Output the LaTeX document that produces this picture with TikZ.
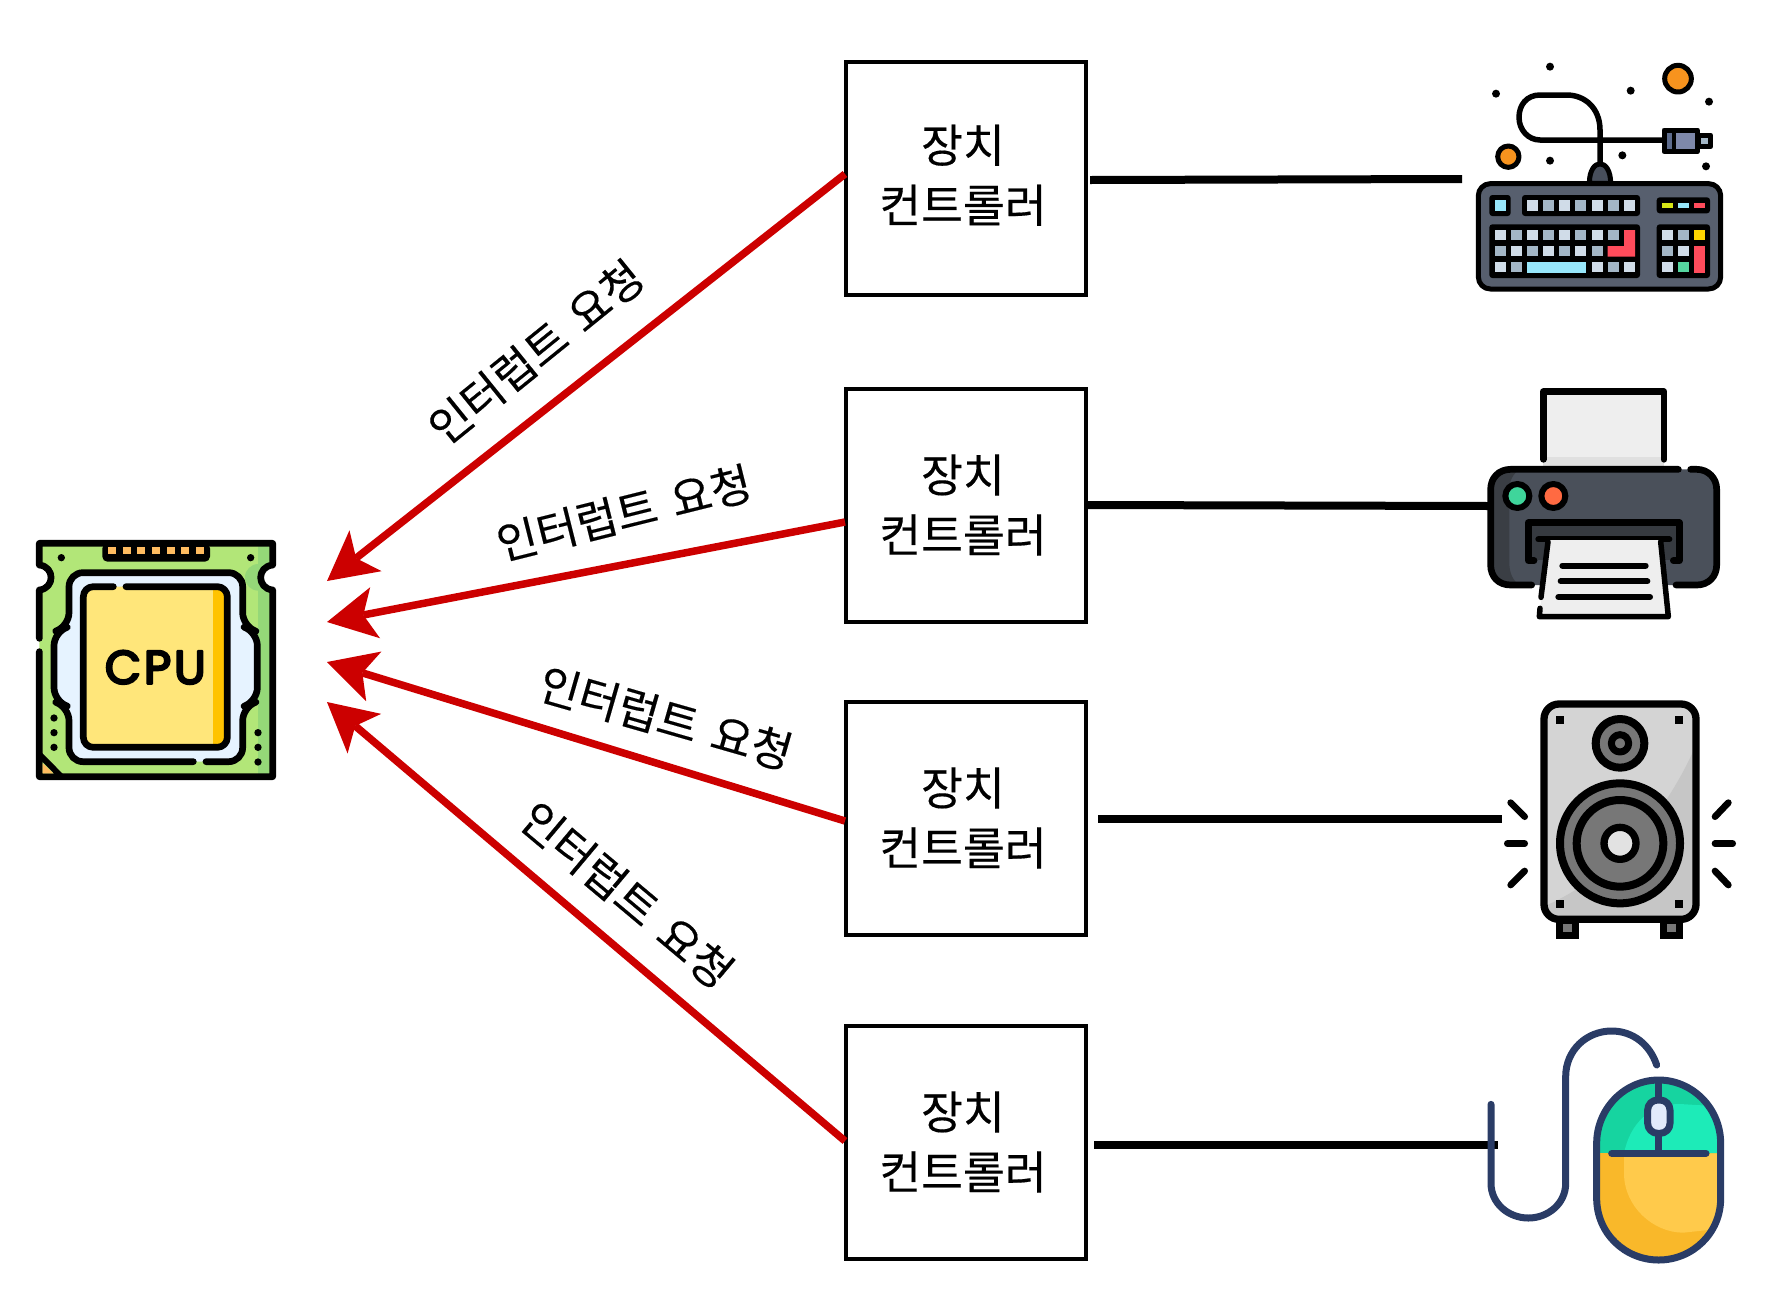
\documentclass[tikz,border=0pt]{standalone}
\usepackage{fontspec}
\setmainfont{Noto Sans CJK KR}[FakeBold=0.3]
\newfontfamily\cpufont{Poppins}[FakeBold=5,LetterSpace=6]
\usetikzlibrary{arrows.meta}
\definecolor{redline}{HTML}{CC0000}
\definecolor{kbBody}{HTML}{575F6E}
\definecolor{kbPlug}{HTML}{474E5B}
\definecolor{keyL}{HTML}{D0DCE8}
\definecolor{keyD}{HTML}{A3B6C6}
\definecolor{keyC}{HTML}{97E6FA}
\definecolor{keyR}{HTML}{FF4B5B}
\definecolor{keyY}{HTML}{FFD500}
\definecolor{keyG}{HTML}{56D6A0}
\definecolor{keyV}{HTML}{D6E617}
\definecolor{plugM}{HTML}{7E88AA}
\definecolor{plugD}{HTML}{5D6B8C}
\definecolor{orangeA}{HTML}{F7931E}
\definecolor{prBody}{HTML}{4A505A}
\definecolor{prDark}{HTML}{3A3E44}
\definecolor{prSlot}{HTML}{363A40}
\definecolor{prPaper}{HTML}{EEEEEE}
\definecolor{prShade}{HTML}{E0E0E0}
\definecolor{prGreen}{HTML}{3FD59B}
\definecolor{prRed}{HTML}{FF6A42}
\definecolor{spBody}{HTML}{D4D4D4}
\definecolor{spShade}{HTML}{C6C6C6}
\definecolor{spCone}{HTML}{777777}
\definecolor{spCap}{HTML}{E2E2E2}
\definecolor{msLine}{HTML}{2A3C66}
\definecolor{msG}{HTML}{16D4A0}
\definecolor{msGL}{HTML}{1DEBB8}
\definecolor{msY}{HTML}{F9B82A}
\definecolor{msYL}{HTML}{FFCA4B}
\definecolor{msW}{HTML}{E2EAFC}
\definecolor{cpuG}{HTML}{B2E678}
\definecolor{cpuGD}{HTML}{95D878}
\definecolor{cpuB}{HTML}{E6F3FF}
\definecolor{cpuY}{HTML}{FFE67A}
\definecolor{cpuO}{HTML}{FFC300}
\definecolor{cpuP}{HTML}{FFBB60}
\tikzset{
  ctrl/.style={draw=black,line width=4pt,fill=white,minimum width=240pt,minimum height=233pt,inner sep=0pt,align=center,font=\fontsize{45.5}{60}\selectfont},
  req/.style={draw=redline,line width=7.5pt,-{Stealth[length=49pt,width=52pt,inset=12pt,line width=0pt]},shorten >=0pt},
  wire/.style={draw=black,line width=8pt},
  lbl/.style={font=\fontsize{44.5}{50}\selectfont,inner sep=0pt},
  zoomed/.style={x=0.33333pt,y=-0.33333pt,line cap=round,line join=round},
}
\newcommand\kk[3]{\fill[#3] (#1,#2) rectangle ++(33,31);}
\newcommand\ctext{\hspace*{-6pt}장치\\\hspace*{-6pt}컨트롤러}
\newcommand\reqtext{인터럽트\hspace{0.12em} 요청}
\begin{document}
\begin{tikzpicture}[x=1pt,y=-1pt]
\useasboundingbox (0,0) rectangle (1784,1312);
% controllers
\node[ctrl] (box1) at (966,178) {\ctext\rule[-9pt]{0pt}{9pt}};
\node[ctrl] (box2) at (966,505) {\ctext};
\node[ctrl] (box3) at (966,818) {\ctext};
\node[ctrl] (box4) at (966,1142) {\ctext};
% red arrows
\coordinate (t1) at (327,581); \coordinate (t2) at (327,622);
\coordinate (t3) at (327,662); \coordinate (t4) at (327,702);
\coordinate (p1) at (845,174); \coordinate (p2) at (845,522);
\coordinate (p3) at (845,821); \coordinate (p4) at (845,1141);
\draw[req] (p1) -- (t1);
\draw[req] (p2) -- (t2);
\draw[req] (p3) -- (t3);
\draw[req] (p4) -- (t4);
\node[lbl,rotate=39] (l1) at (536,352) {\reqtext};
\node[lbl,rotate=14] (l2) at (624,513) {\reqtext};
\node[lbl,rotate=-16] (l3) at (666,718) {\reqtext};
\node[lbl,rotate=-40] (l4) at (627,895) {\reqtext};
% device wires
\coordinate (d1) at (1462,179); \coordinate (d2) at (1490,506);
\coordinate (d3) at (1502,819); \coordinate (d4) at (1498,1145);
\coordinate (s1) at (1090,180); \coordinate (s2) at (1087,505);
\coordinate (s3) at (1098,819); \coordinate (s4) at (1094,1145);
\draw[wire] (s1) -- (d1);
\draw[wire] (s2) -- (d2);
\draw[wire] (s3) -- (d3);
\draw[wire] (s4) -- (d4);
% keyboard
\begin{scope}[shift={(1450,40)},zoomed]
\foreach \a/\b in {300/80,138/161,542/152,777/185,517/346,300/362,768/379}
  \fill[black] (\a,\b) circle[radius=12];
\draw[line width=5pt,fill=orangeA] (684,116) circle[radius=40];
\draw[line width=5pt,fill=orangeA] (175,350) circle[radius=32];
\draw[line width=5.5pt] (450,400) -- (450,270) .. controls (450,205) and (405,165) .. (350,165) -- (270,165) .. controls (230,165) and (207,195) .. (207,232) .. controls (207,270) and (235,300) .. (270,300) -- (640,300);
\draw[line width=5pt,fill=keyD] (745,285) rectangle (782,320);
\draw[line width=5pt,fill=plugM] (642,270) rectangle (742,335);
\fill[plugD] (650,278) rectangle (668,328);
\draw[line width=4pt] (672,275) -- (672,330);
\draw[line width=5pt,fill=kbPlug] (418,430) .. controls (418,352) and (482,352) .. (482,430) -- cycle;
\draw[line width=5pt,fill=kbBody,rounded corners=12pt] (85,431) rectangle (812,747);
\fill[black,rounded corners=3pt] (118,465) rectangle (182,528);
\fill[black,rounded corners=3pt] (216,465) rectangle (570,528);
\fill[black,rounded corners=3pt] (620,472) rectangle (780,520);
\fill[black,rounded corners=3pt] (118,553) rectangle (570,714);
\fill[black,rounded corners=3pt] (620,553) rectangle (780,714);
\kk{135}{481}{keyC}
\foreach \a/\c in {231/keyL,279/keyD,328/keyL,376/keyD,425/keyL,473/keyD,522/keyL} {\kk{\a}{481}{\c}}
\fill[keyV] (635,488) rectangle (668,504);
\fill[keyC] (684,488) rectangle (717,504);
\fill[keyR] (732,488) rectangle (765,504);
\foreach \a/\c in {135/keyL,182/keyD,231/keyL,279/keyD,328/keyL,376/keyD,425/keyL,473/keyD} {\kk{\a}{570}{\c}}
\foreach \a/\c in {135/keyD,182/keyL,231/keyD,279/keyL,328/keyD,376/keyL,425/keyD} {\kk{\a}{618}{\c}}
\foreach \a/\c in {135/keyL,182/keyD,425/keyL,473/keyD,522/keyL} {\kk{\a}{666}{\c}}
\fill[keyC] (231,666) rectangle (409,698);
\fill[keyR] (522,570) -- (555,570) -- (555,650) -- (473,650) -- (473,618) -- (522,618) -- cycle;
\kk{635}{570}{keyL} \kk{684}{570}{keyD} \kk{732}{570}{keyY}
\kk{635}{618}{keyD} \kk{684}{618}{keyL}
\kk{635}{666}{keyL} \kk{684}{666}{keyG}
\fill[keyR] (732,618) rectangle (765,698);
\end{scope}
% printer
\begin{scope}[shift={(1460,370)},zoomed]
\fill[prPaper] (250,65) rectangle (612,285);
\fill[prShade] (250,262) rectangle (612,290);
\draw[line width=6.7pt] (250,268) -- (250,65) -- (612,65) -- (612,268);
\fill[prBody,rounded corners=18pt] (92,298) rectangle (770,645);
\begin{scope}
\clip[rounded corners=18pt] (92,298) rectangle (770,645);
\fill[prDark] (92,298) -- (180,298) .. controls (160,310) and (148,330) .. (148,360) -- (148,580) .. controls (148,610) and (160,635) .. (180,645) -- (92,645) -- cycle;
\end{scope}
\draw[line width=6.7pt] (655,298) -- (152,298) .. controls (115,298) and (92,325) .. (92,358) -- (92,585) .. controls (92,620) and (115,645) .. (152,645) -- (215,645);
\draw[line width=6.7pt] (692,298) -- (710,298) .. controls (745,298) and (770,325) .. (770,358) -- (770,585) .. controls (770,620) and (745,645) .. (710,645) -- (648,645);
\draw[line width=6pt,fill=prGreen] (172,378) circle[radius=36];
\draw[line width=6pt,fill=prRed] (280,378) circle[radius=36];
\fill[prSlot] (212,465) rectangle (650,570);
\draw[line width=6.7pt] (222,572) -- (205,572) -- (205,458) -- (658,458) -- (658,572) -- (640,572);
\draw[line width=6pt] (235,508) -- (628,508);
\fill[prPaper] (262,510) -- (600,510) -- (625,740) -- (238,740) -- cycle;
\draw[line width=5.5pt] (264,515) -- (243,682);
\draw[line width=5.5pt] (240,715) -- (238,740) -- (625,740) -- (602,515);
\draw[line width=6pt] (307,587) -- (557,587);
\draw[line width=6pt] (302,634) -- (562,634);
\draw[line width=6pt] (295,681) -- (570,681);
\end{scope}
% speaker
\begin{scope}[shift={(1480,680)},zoomed]
\fill[black] (228,710) rectangle (298,778);
\fill[black] (540,710) rectangle (610,778);
\fill[spCone] (250,733) rectangle (276,757);
\fill[spCone] (562,733) rectangle (588,757);
\fill[spBody,rounded corners=15pt] (192,72) rectangle (648,718);
\begin{scope}
\clip[rounded corners=15pt] (192,72) rectangle (648,718);
\fill[spShade] (650,190) .. controls (560,400) and (400,590) .. (190,680) -- (190,730) -- (650,730) -- cycle;
\end{scope}
\draw[line width=7.3pt,rounded corners=15pt] (192,72) rectangle (648,718);
\foreach \a/\b in {240/119,598/119,240/672,598/672} \fill[black] (\a-12,\b-12) rectangle (\a+12,\b+12);
\draw[line width=8pt,fill=spCone] (420,190) circle[radius=73];
\draw[line width=7pt,fill=spCone] (420,190) circle[radius=26];
\draw[line width=8pt,fill=spCone] (420,490) circle[radius=180];
\draw[line width=8pt,fill=spCone] (420,490) circle[radius=130];
\draw[line width=7.3pt,fill=spCap] (420,490) circle[radius=48];
\draw[line width=6.7pt] (92,368) -- (134,410);
\draw[line width=6.7pt] (82,491) -- (134,491);
\draw[line width=6.7pt] (92,615) -- (134,573);
\draw[line width=6.7pt] (745,368) -- (705,410);
\draw[line width=6.7pt] (705,491) -- (758,491);
\draw[line width=6.7pt] (705,573) -- (745,615);
\end{scope}
% mouse
\begin{scope}[shift={(1470,1010)},zoomed]
\draw[msLine,line width=7pt] (63,283) -- (63,520) .. controls (63,580) and (115,624) .. (175,624) .. controls (235,624) and (287,580) .. (287,520) -- (287,200) .. controls (287,120) and (350,63) .. (425,63) .. controls (490,63) and (540,105) .. (560,165);
\begin{scope}
\clip (380,400) .. controls (380,295) and (465,210) .. (566,210) .. controls (667,210) and (752,295) .. (752,400) -- (752,565) .. controls (752,670) and (667,750) .. (566,750) .. controls (465,750) and (380,670) .. (380,565) -- cycle;
\fill[msG] (370,200) rectangle (760,430);
\fill[msY] (370,430) rectangle (760,760);
\fill[msGL] (462,430) .. controls (480,340) and (540,282) .. (630,282) -- (760,290) -- (760,430) -- cycle;
\fill[msYL] (462,430) -- (462,490) .. controls (462,590) and (550,668) .. (640,668) -- (760,655) -- (760,430) -- cycle;
\end{scope}
\draw[msLine,line width=7pt] (380,400) .. controls (380,295) and (465,210) .. (566,210) .. controls (667,210) and (752,295) .. (752,400) -- (752,565) .. controls (752,670) and (667,750) .. (566,750) .. controls (465,750) and (380,670) .. (380,565) -- cycle;
\draw[msLine,line width=7pt] (566,215) -- (566,270);
\draw[msLine,line width=7pt] (566,370) -- (566,430);
\draw[msLine,line width=7pt] (425,430) -- (708,430);
\draw[msLine,line width=7pt,fill=msW,rounded corners=10pt] (533,270) rectangle (600,370);
\end{scope}
% cpu
\begin{scope}[shift={(20,520)},zoomed]
\fill[cpuG] (58,70) -- (758,70) -- (758,135) .. controls (710,140) and (710,205) .. (758,210) -- (758,770) -- (58,770) -- (58,210) .. controls (105,205) and (105,140) .. (58,135) -- cycle;
\begin{scope}
\clip (58,70) -- (758,70) -- (758,135) .. controls (710,140) and (710,205) .. (758,210) -- (758,770) -- (58,770) -- cycle;
\fill[cpuGD] (715,70) rectangle (758,770);
\fill[cpuGD] (715,172) circle[radius=40];
\end{scope}
\draw[line width=6.7pt] (58,355) -- (58,210) .. controls (105,205) and (105,140) .. (58,135) -- (58,70) -- (758,70) -- (758,135) .. controls (710,140) and (710,205) .. (758,210) -- (758,770) -- (58,770) -- (58,395);
\fill[black,rounded corners=5pt] (247,70) rectangle (570,125);
\foreach \a in {265,308,352,396,440,484,528} \fill[cpuP] (\a,80) rectangle (\a+24,103);
\foreach \a/\b in {124/113,692/113,102/594,102/638,102/682,714/638,714/682,714/726} \fill[black] (\a,\b) circle[radius=11];
\fill[cpuP] (68,730) -- (100,760) -- (68,760) -- cycle;
\draw[line width=6pt] (58,703) -- (122,768);
\fill[cpuB,rounded corners=18pt] (147,158) -- (668,158) -- (668,325) -- (712,335) -- (712,545) -- (668,560) -- (668,725) -- (147,725) -- (147,560) -- (102,545) -- (102,335) -- (147,325) -- cycle;
\draw[line width=6.7pt,rounded corners=14pt] (520,725) -- (147,725) -- (147,560) -- (102,545) -- (102,335) -- (147,320) -- (147,158) -- (668,158) -- (668,320) -- (712,335) -- (712,545) -- (668,560) -- (668,725) -- (558,725);
\fill[cpuY,rounded corners=8pt] (190,200) rectangle (622,682);
\begin{scope}
\clip[rounded corners=8pt] (190,200) rectangle (622,682);
\fill[cpuO] (578,200) rectangle (622,682);
\end{scope}
\draw[line width=6.7pt,rounded corners=10pt] (280,200) -- (190,200) -- (190,682) -- (622,682) -- (622,200) -- (318,200);
\node[font={\cpufont\fontsize{47}{47}\selectfont},inner sep=0pt] (cpu) at (406,442) {CPU};
\end{scope}
\end{tikzpicture}
\end{document}
